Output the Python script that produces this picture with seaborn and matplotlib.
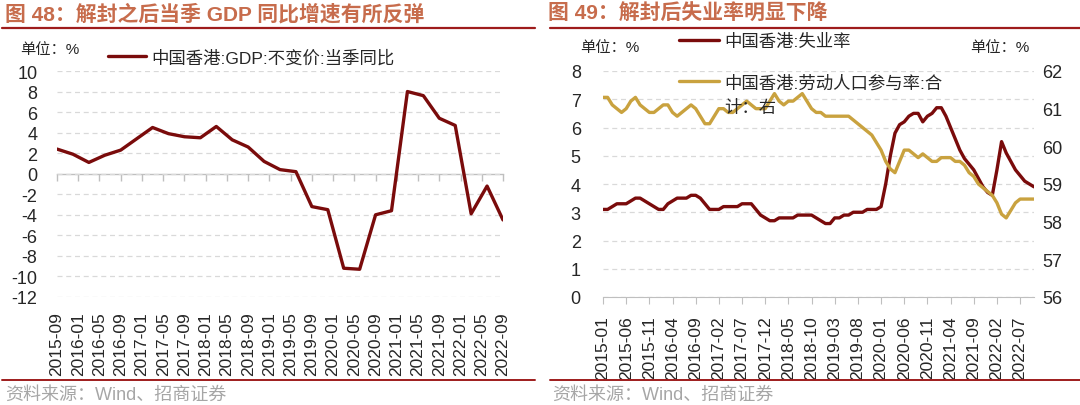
import numpy as np
import pandas as pd
import matplotlib
matplotlib.use("Agg")
import matplotlib.pyplot as plt
import seaborn as sns

# ---------------- data ----------------
gdp_ticks = ["2015-09", "2016-01", "2016-05", "2016-09", "2017-01", "2017-05",
             "2017-09", "2018-01", "2018-05", "2018-09", "2019-01", "2019-05",
             "2019-09", "2020-01", "2020-05", "2020-09", "2021-01", "2021-05",
             "2021-09", "2022-01", "2022-05", "2022-09"]
# quarterly, 2015-09 .. 2022-09 (month offsets 0,3,6,...)
gdp_values = [2.4, 1.9, 1.1, 1.8, 2.3, 3.4, 4.5, 3.9, 3.6, 3.5,
              4.6, 3.3, 2.6, 1.2, 0.4, 0.2, -3.2, -3.5, -9.2, -9.3,
              -4.0, -3.6, 8.0, 7.6, 5.4, 4.7, -3.9, -1.2, -4.5]

lab_ticks = ["2015-01", "2015-06", "2015-11", "2016-04", "2016-09", "2017-02",
             "2017-07", "2017-12", "2018-05", "2018-10", "2019-03", "2019-08",
             "2020-01", "2020-06", "2020-11", "2021-04", "2021-09", "2022-02",
             "2022-07"]
# monthly, 2015-01 .. 2022-10
unemployment = [3.1, 3.1, 3.2, 3.3, 3.3, 3.3, 3.4, 3.5, 3.5, 3.4,
                3.3, 3.2, 3.1, 3.1, 3.3, 3.4, 3.5, 3.5, 3.5, 3.6,
                3.6, 3.5, 3.3, 3.1, 3.1, 3.1, 3.2, 3.2, 3.2, 3.2,
                3.3, 3.3, 3.3, 3.1, 2.9, 2.8, 2.7, 2.7, 2.8, 2.8,
                2.8, 2.8, 2.9, 2.9, 2.9, 2.9, 2.8, 2.7, 2.6, 2.6,
                2.8, 2.8, 2.9, 2.9, 3.0, 3.0, 3.0, 3.1, 3.1, 3.1,
                3.2, 4.0, 5.0, 5.8, 6.1, 6.2, 6.4, 6.5, 6.5, 6.2,
                6.4, 6.5, 6.7, 6.7, 6.4, 6.0, 5.6, 5.2, 4.9, 4.7,
                4.5, 4.2, 3.9, 3.7, 3.6, 4.5, 5.5, 5.1, 4.8, 4.5,
                4.3, 4.1, 4.0, 3.9]
participation = [61.3, 61.3, 61.1, 61.0, 60.9, 61.0, 61.2, 61.3, 61.1, 61.0,
                 60.9, 60.9, 61.0, 61.1, 61.1, 60.9, 60.8, 60.9, 61.0, 61.1,
                 61.0, 60.8, 60.6, 60.6, 60.8, 61.0, 61.0, 60.9, 60.9, 61.0,
                 61.1, 61.2, 61.1, 61.0, 61.0, 61.0, 61.2, 61.4, 61.2, 61.1,
                 61.2, 61.2, 61.3, 61.4, 61.2, 61.0, 60.9, 60.9, 60.8, 60.8,
                 60.8, 60.8, 60.8, 60.8, 60.7, 60.6, 60.5, 60.4, 60.3, 60.1,
                 59.9, 59.6, 59.4, 59.3, 59.6, 59.9, 59.9, 59.8, 59.7, 59.8,
                 59.7, 59.6, 59.6, 59.7, 59.7, 59.7, 59.6, 59.6, 59.5, 59.3,
                 59.2, 59.0, 58.9, 58.8, 58.7, 58.5, 58.2, 58.1, 58.3, 58.5,
                 58.6, 58.6, 58.6, 58.6]

gdp_label = "中国香港:GDP:不变价:当季同比"
unemp_label = "中国香港:失业率"
lfpr_label = "中国香港:劳动人口参与率:合"
lfpr_label_cont = "计：右"
title_left = "图 48：解封之后当季 GDP 同比增速有所反弹"
title_right = "图 49：解封后失业率明显下降"
unit_text = "单位：%"
source_text = "资料来源：Wind、招商证券"

# ---------------- style ----------------
sns.set_style("white")
plt.rcParams["font.family"] = ["Liberation Sans", "Noto Sans CJK SC", "DejaVu Sans"]
plt.rcParams["axes.unicode_minus"] = False

RED = "#7A0B0B"
GOLD = "#C9A23F"
TITLE_C = "#C76C4C"
RULE_C = "#9E1C1C"
GRID_C = "#D9D9D9"
AXIS_C = "#BFBFBF"
SRC_C = "#A6A6A6"
TICK_FS = 12.5

W, H = 1080, 406
fig = plt.figure(figsize=(W / 100, H / 100), dpi=100)


def rect(x0, y0, x1, y1):
    return [x0 / W, 1 - y1 / H, (x1 - x0) / W, (y1 - y0) / H]


def fx(px):
    return px / W


def fy(py):
    return 1 - py / H


# ---------------- left chart ----------------
df_gdp = pd.DataFrame({"month": np.arange(len(gdp_values)) * 3, "value": gdp_values})
ax1 = fig.add_axes(rect(57, 72, 503, 298))
sns.lineplot(data=df_gdp, x="month", y="value", ax=ax1, color=RED, lw=2.4,
             label=gdp_label, legend=False)
ax1.set_xlim(0, 84)
ax1.set_ylim(-12, 10)
ax1.set_yticks(np.arange(-12, 11, 2))
ax1.set_xticks(np.arange(len(gdp_ticks)) * 4)
ax1.set_xticklabels(gdp_ticks, rotation=90, fontsize=TICK_FS)
ax1.tick_params(axis="y", labelsize=13, length=0, pad=14)
ax1.tick_params(axis="x", length=0, pad=10)
ax1.set_xlabel("")
ax1.set_ylabel("")
for s in ax1.spines.values():
    s.set_visible(False)
ax1.grid(axis="y", color=GRID_C, ls=(0, (4, 3)), lw=0.9)
ax1.grid(axis="x", visible=False)
sec = ax1.secondary_xaxis(0, transform=ax1.transData)
sec.set_xticks(np.arange(len(gdp_ticks)) * 4)
sec.set_xticklabels([])
sec.tick_params(axis="x", bottom=True, direction="out", length=5, color=AXIS_C, width=1)
sec.spines["bottom"].set_color(AXIS_C)
sec.spines["bottom"].set_linewidth(1)

h, l = ax1.get_legend_handles_labels()
fig.legend(h, l, loc="center left", bbox_to_anchor=(fx(108), fy(58)),
           bbox_transform=fig.transFigure, frameon=False, fontsize=12.5,
           handlelength=2.2, handletextpad=0.3, borderpad=0, borderaxespad=0)

# ---------------- right chart ----------------
df_lab = pd.DataFrame({"month": np.arange(len(unemployment)),
                       "unemp": unemployment, "lfpr": participation})
ax2 = fig.add_axes(rect(603, 72, 1034, 298))
sns.lineplot(data=df_lab, x="month", y="unemp", ax=ax2, color=RED, lw=2.4,
             label=unemp_label, legend=False)
ax2.set_xlim(0, len(unemployment) - 1)
ax2.set_ylim(0, 8)
ax2.set_yticks(np.arange(0, 9, 1))
ax2.set_xticks(np.arange(len(lab_ticks)) * 5)
ax2.set_xticklabels(lab_ticks, rotation=90, fontsize=TICK_FS)
ax2.tick_params(axis="y", labelsize=13, length=0, pad=16)
ax2.tick_params(axis="x", bottom=True, direction="out", length=5, color=AXIS_C, pad=8)
ax2.set_xlabel("")
ax2.set_ylabel("")
for k, s in ax2.spines.items():
    s.set_visible(k == "bottom")
ax2.spines["bottom"].set_color(AXIS_C)
ax2.grid(axis="y", color=GRID_C, ls=(0, (4, 3)), lw=0.9)
ax2.grid(axis="x", visible=False)

ax3 = ax2.twinx()
sns.lineplot(data=df_lab, x="month", y="lfpr", ax=ax3, color=GOLD, lw=2.4,
             label=lfpr_label, legend=False)
ax3.set_ylim(56, 62)
ax3.set_yticks(np.arange(56, 63, 1))
ax3.tick_params(axis="y", labelsize=13, length=0, pad=6)
ax3.set_ylabel("")
for s in ax3.spines.values():
    s.set_visible(False)
ax3.grid(False)

h2, l2 = ax2.get_legend_handles_labels()
h3, l3 = ax3.get_legend_handles_labels()
leg_a = fig.legend(h2, l2, loc="center left", bbox_to_anchor=(fx(679), fy(42)),
                   bbox_transform=fig.transFigure, frameon=False, fontsize=12.5,
                   handlelength=2.3, handletextpad=0.3, borderpad=0, borderaxespad=0)
leg_b = fig.legend(h3, l3, loc="center left", bbox_to_anchor=(fx(679), fy(83)),
                   bbox_transform=fig.transFigure, frameon=False, fontsize=12.5,
                   handlelength=2.3, handletextpad=0.3, borderpad=0, borderaxespad=0)
fig.text(fx(724), fy(108), lfpr_label_cont, fontsize=12.5, va="center", ha="left")

# ---------------- titles, rules, notes ----------------
fig.text(fx(5), fy(14), title_left, fontsize=15, fontweight="bold", color=TITLE_C,
         va="center", ha="left")
fig.text(fx(548), fy(14), title_right, fontsize=15, fontweight="bold", color=TITLE_C,
         va="center", ha="left")
for x0, x1 in [(2, 535), (550, 1080)]:
    fig.add_artist(plt.Line2D([fx(x0), fx(x1)], [fy(29), fy(29)], color=RULE_C, lw=1.6,
                              transform=fig.transFigure))
    fig.add_artist(plt.Line2D([fx(x0), fx(x1)], [fy(381), fy(381)], color=RULE_C, lw=1.4,
                              transform=fig.transFigure))
fig.text(fx(5), fy(395), source_text, fontsize=13, color=SRC_C, va="center", ha="left")
fig.text(fx(552), fy(395), source_text, fontsize=13, color=SRC_C, va="center", ha="left")

fig.text(fx(20), fy(50), unit_text, fontsize=11, va="center", ha="left")
fig.text(fx(580), fy(48), unit_text, fontsize=11, va="center", ha="left")
fig.text(fx(970), fy(48), unit_text, fontsize=11, va="center", ha="left")

fig.savefig("out.png", dpi=100)
